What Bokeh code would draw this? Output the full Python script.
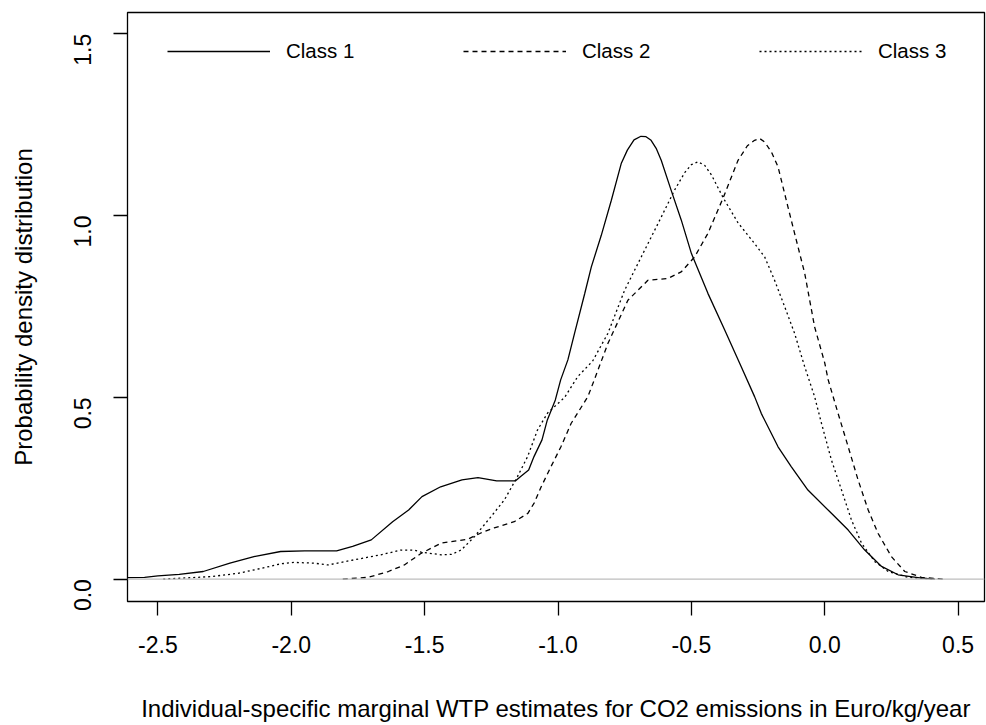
import math
from bokeh.plotting import figure
from bokeh.models import (FixedTicker, PrintfTickFormatter, Span, Legend, LegendItem, Range1d)
from bokeh.embed import file_html
from bokeh.resources import INLINE

# ---- data ----
class1_x = [-2.62, -2.55, -2.50, -2.42, -2.33, -2.23, -2.14, -2.04, -1.95, -1.83, -1.77, -1.70,
            -1.62, -1.56, -1.51, -1.44, -1.36, -1.30, -1.23, -1.16, -1.14, -1.11, -1.09, -1.06,
            -1.04, -1.01, -0.99, -0.963, -0.938, -0.90, -0.875, -0.838, -0.80, -0.763, -0.740,
            -0.715, -0.689, -0.670, -0.651, -0.632, -0.613, -0.576, -0.538, -0.50, -0.438, -0.375,
            -0.313, -0.263, -0.238, -0.175, -0.125, -0.063, 0.025, 0.088, 0.15, 0.213, 0.275,
            0.363, 0.413]
class1_y = [0.004, 0.005, 0.009, 0.013, 0.021, 0.044, 0.062, 0.076, 0.078, 0.078, 0.090, 0.108,
            0.158, 0.190, 0.227, 0.254, 0.273, 0.279, 0.270, 0.270, 0.282, 0.300, 0.337, 0.383,
            0.438, 0.493, 0.548, 0.603, 0.676, 0.785, 0.859, 0.945, 1.042, 1.143, 1.180,
            1.208, 1.218, 1.217, 1.207, 1.185, 1.152, 1.070, 0.988, 0.896, 0.786, 0.685,
            0.584, 0.502, 0.456, 0.364, 0.309, 0.245, 0.181, 0.135, 0.080, 0.035, 0.012,
            0.003, 0.0]

class2_x = [-1.807, -1.711, -1.636, -1.576, -1.513, -1.438, -1.338, -1.289, -1.239, -1.164,
            -1.113, -1.089, -1.063, -1.026, -0.989, -0.951, -0.888, -0.864, -0.813, -0.738,
            -0.663, -0.588, -0.538, -0.488, -0.438, -0.38, -0.325, -0.290, -0.263, -0.244,
            -0.225, -0.200, -0.175, -0.138, -0.113, -0.075, -0.038, 0.0, 0.013, 0.05, 0.088,
            0.125, 0.163, 0.2, 0.25, 0.3, 0.363, 0.444]
class2_y = [0.0, 0.005, 0.021, 0.039, 0.071, 0.099, 0.110, 0.127, 0.141, 0.158,
            0.181, 0.210, 0.254, 0.310, 0.364, 0.428, 0.502, 0.548, 0.648, 0.767,
            0.822, 0.827, 0.845, 0.886, 0.951, 1.050, 1.152, 1.192, 1.207, 1.212,
            1.202, 1.175, 1.134, 1.024, 0.951, 0.841, 0.694, 0.595, 0.548, 0.456, 0.364,
            0.273, 0.190, 0.126, 0.062, 0.021, 0.005, 0.0]

class3_x = [-2.48, -2.30, -2.20, -2.11, -2.04, -1.99, -1.915, -1.862, -1.765, -1.664, -1.589,
            -1.54, -1.513, -1.438, -1.40, -1.363, -1.313, -1.251, -1.201, -1.152, -1.114, -1.077,
            -1.039, -0.975, -0.926, -0.87, -0.813, -0.75, -0.688, -0.625, -0.563, -0.525, -0.50,
            -0.475, -0.45, -0.425, -0.38, -0.325, -0.263, -0.225, -0.188, -0.15, -0.113, -0.075,
            -0.038, -0.012, 0.025, 0.063, 0.1, 0.138, 0.188, 0.238, 0.313, 0.413]
class3_y = [0.0, 0.007, 0.016, 0.030, 0.042, 0.046, 0.044, 0.039, 0.053, 0.067, 0.080,
            0.080, 0.074, 0.067, 0.068, 0.080, 0.117, 0.172, 0.218, 0.282, 0.337, 0.410,
            0.457, 0.500, 0.557, 0.600, 0.676, 0.795, 0.886, 0.978, 1.070, 1.118, 1.140,
            1.148, 1.138, 1.112, 1.048, 0.980, 0.923, 0.886, 0.822, 0.749, 0.676, 0.584,
            0.502, 0.428, 0.328, 0.245, 0.163, 0.099, 0.048, 0.021, 0.005, 0.0]

labels = ["Class 1", "Class 2", "Class 3"]
x_ticks = [-2.5, -2.0, -1.5, -1.0, -0.5, 0.0, 0.5]
y_ticks = [0.0, 0.5, 1.0, 1.5]

FONT = "Liberation Sans"

p = figure(frame_width=857, frame_height=589, output_backend="svg", toolbar_location=None,
           x_range=Range1d(-2.614, 0.599), y_range=Range1d(-0.0615, 1.5585),
           min_border_left=127, min_border_right=2, min_border_top=12, min_border_bottom=124)
p.background_fill_color = "white"
p.border_fill_color = "white"
p.outline_line_color = "black"
p.outline_line_width = 1.3
p.grid.visible = False

# baseline at zero
p.add_layout(Span(location=0, dimension="width", line_color="#bebebe", line_width=1.3))

r1 = p.line(class1_x, class1_y, line_color="black", line_width=1.3)
r2 = p.line(class2_x, class2_y, line_color="black", line_width=1.3, line_dash="5 4")
r3 = p.line(class3_x, class3_y, line_color="black", line_width=1.3, line_dash="2 3")

for ax in (p.xaxis[0], p.yaxis[0]):
    ax.axis_line_color = None
    ax.major_tick_line_color = "black"
    ax.major_tick_line_width = 1.3
    ax.major_tick_out = 14
    ax.major_tick_in = 0
    ax.minor_tick_line_color = None
    ax.formatter = PrintfTickFormatter(format="%.1f")
    ax.major_label_text_font = FONT
    ax.major_label_text_font_size = "23px"
    ax.major_label_text_color = "black"
    ax.axis_label_text_font = FONT
    ax.axis_label_text_font_size = "24px"
    ax.axis_label_text_font_style = "normal"
    ax.axis_label_text_color = "black"

p.xaxis[0].ticker = FixedTicker(ticks=x_ticks)
p.yaxis[0].ticker = FixedTicker(ticks=y_ticks)
p.xaxis[0].axis_label = "Individual-specific marginal WTP estimates for CO2 emissions in Euro/kg/year"
p.yaxis[0].axis_label = "Probability density distribution"
p.xaxis[0].major_label_standoff = 20
p.xaxis[0].axis_label_standoff = 39
p.yaxis[0].major_label_orientation = math.pi / 2
p.yaxis[0].major_label_standoff = 31
p.yaxis[0].axis_label_standoff = 26

legend = Legend(items=[LegendItem(label=labels[0], renderers=[r1]),
                       LegendItem(label=labels[1], renderers=[r2]),
                       LegendItem(label=labels[2], renderers=[r3])],
                orientation="horizontal", location=(40, 538),
                glyph_width=103, glyph_height=24, label_height=24, label_width=177,
                label_standoff=16, spacing=0, padding=0, margin=0,
                border_line_alpha=0, background_fill_alpha=0,
                label_text_font=FONT, label_text_font_size="20.5px", label_text_color="black")
p.add_layout(legend)

open("out.html", "w").write(file_html(p, INLINE))
